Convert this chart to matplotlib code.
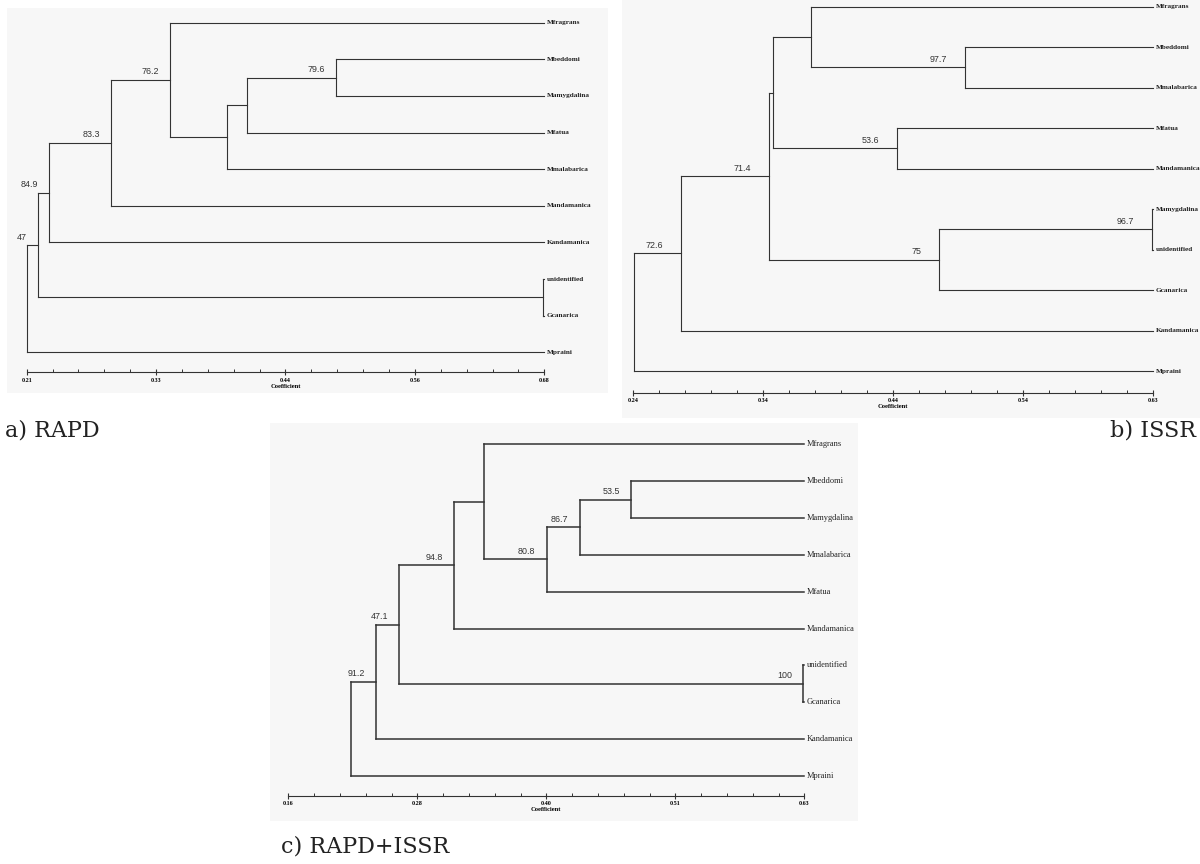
import matplotlib
matplotlib.use("Agg")
import matplotlib.pyplot as plt
from matplotlib.patches import Rectangle
import numpy as np

# ---------------- data ----------------
# Panel a) RAPD
rapd_leaves = ["Mfragrans", "Mbeddomi", "Mamygdalina", "Mfatua", "Mmalabarica",
               "Mandamanica", "Kandamanica", "unidentified", "Gcanarica", "Mpraini"]
rapd_merges = [(1, 2), (10, 3), (11, 4), (0, 12), (13, 5), (14, 6), (7, 8), (15, 16), (17, 9)]
rapd_coef = [0.491, 0.410, 0.392, 0.340, 0.287, 0.230, 0.679, 0.220, 0.210]
rapd_support = ["79.6", "", "", "76.2", "83.3", "84.9", "", "47", ""]
rapd_ticks = ["0.21", "0.33", "0.44", "0.56", "0.68"]
rapd_range = (0.21, 0.68)

# Panel b) ISSR
issr_leaves = ["Mfragrans", "Mbeddomi", "Mmalabarica", "Mfatua", "Mandamanica",
               "Mamygdalina", "unidentified", "Gcanarica", "Kandamanica", "Mpraini"]
issr_merges = [(1, 2), (0, 10), (3, 4), (11, 12), (5, 6), (14, 7), (13, 15), (16, 8), (17, 9)]
issr_coef = [0.489, 0.373, 0.438, 0.345, 0.629, 0.4695, 0.342, 0.276, 0.2405]
issr_support = ["97.7", "", "53.6", "", "96.7", "75", "71.4", "72.6", ""]
issr_ticks = ["0.24", "0.34", "0.44", "0.54", "0.63"]
issr_range = (0.24, 0.63)

# Panel c) RAPD+ISSR
comb_leaves = ["Mfragrans", "Mbeddomi", "Mamygdalina", "Mmalabarica", "Mfatua",
               "Mandamanica", "unidentified", "Gcanarica", "Kandamanica", "Mpraini"]
comb_merges = [(1, 2), (10, 3), (11, 4), (0, 12), (13, 5), (6, 7), (14, 15), (16, 8), (17, 9)]
comb_coef = [0.472, 0.4254, 0.3953, 0.3385, 0.3112, 0.629, 0.2608, 0.2396, 0.2174]
comb_support = ["53.5", "86.7", "80.8", "", "94.8", "100", "47.1", "91.2", ""]
comb_ticks = ["0.16", "0.28", "0.40", "0.51", "0.63"]
comb_range = (0.16, 0.63)

captions = ["a) RAPD", "b) ISSR", "c) RAPD+ISSR"]

# ---------------- figure ----------------
W, H = 1200, 864
fig = plt.figure(figsize=(W / 100, H / 100), dpi=100)
fig.patch.set_facecolor("white")

LINE = "#333333"
SERIF = ["Liberation Serif", "DejaVu Serif"]
SANS = ["Liberation Sans", "DejaVu Sans"]


def px_rect(x0, y0, x1, y1):
    return [x0 / W, 1 - y1 / H, (x1 - x0) / W, (y1 - y0) / H]


def bg(x0, y0, x1, y1):
    fig.patches.append(Rectangle((x0 / W, 1 - y1 / H), (x1 - x0) / W, (y1 - y0) / H,
                                 transform=fig.transFigure, facecolor="#f7f7f7",
                                 edgecolor="none", zorder=-10))


def draw_panel(box, ybottom, leaves, merges, coefs, support, ticks, xr,
               lw=0.8, leaf_fs=4.6, lab_dx=-9, leaf_weight="bold"):
    ax = fig.add_axes(px_rect(*box))
    ax.set_zorder(5)
    ax.set_facecolor("none")
    ax.patch.set_alpha(0)
    xmin, xmax = xr
    n = len(leaves)
    ypos = {i: float(i) for i in range(n)}
    xpos = {i: xmax for i in range(n)}
    for k, ((a, b), c) in enumerate(zip(merges, coefs)):
        nid = n + k
        ya, yb = ypos[a], ypos[b]
        ax.plot([c, c], [ya, yb], color=LINE, lw=lw, clip_on=False, solid_capstyle="projecting")
        ax.plot([c, xpos[a]], [ya, ya], color=LINE, lw=lw, clip_on=False)
        ax.plot([c, xpos[b]], [yb, yb], color=LINE, lw=lw, clip_on=False)
        ypos[nid] = (ya + yb) / 2
        xpos[nid] = c
        if support[k]:
            ax.annotate(support[k], (c, ypos[nid]), xytext=(lab_dx, 2.5),
                        textcoords="offset points", ha="right", va="bottom",
                        fontsize=6.4, color="#333333", family=SANS)
    for i, name in enumerate(leaves):
        ax.annotate(name, (xmax, i), xytext=(1.5, 0), textcoords="offset points",
                    ha="left", va="center", fontsize=leaf_fs, family=SERIF,
                    weight=leaf_weight, color="#222222")
    ax.set_xlim(xmin, xmax)
    ax.set_ylim(ybottom, 0)
    for s in ["top", "left", "right"]:
        ax.spines[s].set_visible(False)
    ax.spines["bottom"].set_color(LINE)
    ax.spines["bottom"].set_linewidth(0.8)
    ax.set_yticks([])
    ax.set_xticks(np.linspace(xmin, xmax, len(ticks)))
    ax.set_xticklabels(ticks, fontsize=4.4, family=SERIF, weight="bold")
    ax.set_xticks(np.linspace(xmin, xmax, 5 * (len(ticks) - 1) + 1), minor=True)
    ax.tick_params(axis="x", which="major", direction="inout", length=5, width=0.8,
                   color=LINE, pad=1.5)
    ax.tick_params(axis="x", which="minor", direction="in", length=2.5, width=0.7,
                   color=LINE)
    ax.set_xlabel("Coefficient", fontsize=4.7, family=SERIF, weight="bold", labelpad=0.5)
    return ax


# panel backgrounds
bg(7, 8, 608, 393)
bg(622, 0, 1200, 418)
bg(270, 423, 858, 821)

draw_panel((26.7, 22.7, 544.3, 372.3), 9.546, rapd_leaves, rapd_merges, rapd_coef,
           rapd_support, rapd_ticks, rapd_range, lw=0.8, leaf_fs=5.2, lab_dx=-8)
draw_panel((633.3, 6.7, 1153.3, 392.7), 9.535, issr_leaves, issr_merges, issr_coef,
           issr_support, issr_ticks, issr_range, lw=0.8, leaf_fs=5.2, lab_dx=-13)
draw_panel((288.3, 444.3, 804.3, 795.7), 9.534, comb_leaves, comb_merges, comb_coef,
           comb_support, comb_ticks, comb_range, lw=1.1, leaf_fs=6.0, lab_dx=-8,
           leaf_weight="normal")

CAP = ["DejaVu Serif"]
fig.text(5 / W, 1 - 436 / H, captions[0], fontsize=16, family=CAP, ha="left",
         va="baseline", color="#222222")
fig.text(1196 / W, 1 - 436 / H, captions[1], fontsize=16, family=CAP, ha="right",
         va="baseline", color="#222222")
fig.text(281 / W, 1 - 853 / H, captions[2], fontsize=16, family=CAP, ha="left",
         va="baseline", color="#222222")

fig.savefig("out.png", dpi=100, facecolor="white")
